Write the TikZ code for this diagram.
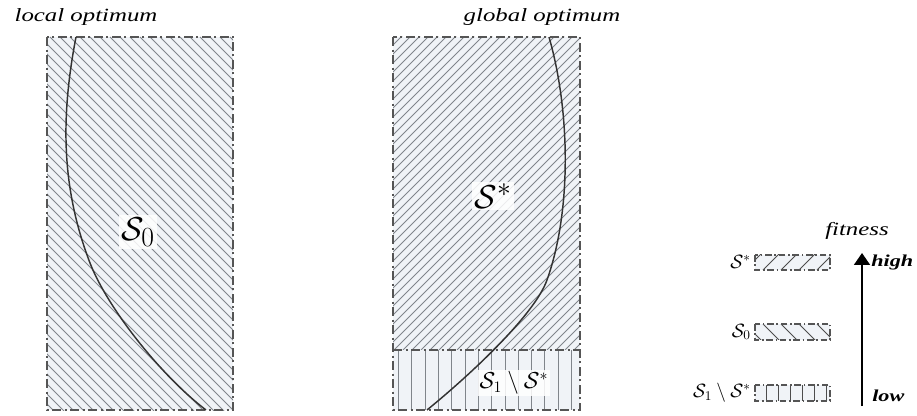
\documentclass[tikz,border=0pt]{standalone}
\usepackage{fontspec}
\setmainfont{Liberation Serif}
\usetikzlibrary{arrows.meta}
\definecolor{regfill}{HTML}{F0F3F7}
\definecolor{hatchcol}{HTML}{80858B}
\definecolor{bordcol}{HTML}{555555}
\newcommand{\hstr}[1]{\scalebox{1.33}[1]{#1}}
\begin{document}
\begin{tikzpicture}[x=0.75pt,y=-0.75pt,
  regionbox/.style={draw=bordcol,line width=1.4pt,dash pattern=on 7pt off 2.5pt on 1.5pt off 2.5pt},
  legbox/.style={draw=bordcol,line width=1pt,dash pattern=on 5pt off 2pt on 1.2pt off 2pt},
  hatchline/.style={draw=hatchcol,line width=0.55pt},
  leghatch/.style={draw=black!70,line width=0.6pt},
  optcurve/.style={draw=black!80,line width=1.1pt},
  title/.style={font=\fontsize{14}{16}\selectfont\itshape,inner sep=0pt},
  biglab/.style={font=\fontsize{24.88}{28}\selectfont,fill=white,fill opacity=0.85,text opacity=1,inner sep=1.5pt},
  midlab/.style={font=\fontsize{17.28}{20}\selectfont,fill=white,fill opacity=0.85,text opacity=1,inner sep=1pt},
  leglab/.style={font=\fontsize{14.4}{16}\selectfont,inner sep=0pt,anchor=east},
  axlab/.style={font=\fontsize{12.5}{14}\selectfont\bfseries\itshape,inner sep=0pt,anchor=west}]

\useasboundingbox (0,0) rectangle (917,416);

% ---------- left region: local optimum ----------
\coordinate (L1) at (47,37);
\coordinate (L2) at (233,410);
\fill[regfill] (L1) rectangle (L2);
\begin{scope}
  \clip (L1) rectangle (L2);
  \foreach \i in {-340,-330,...,240} \draw[hatchline] (\i,37) -- ++(380,380);
\end{scope}
\draw[regionbox] (L1) rectangle (L2);
\coordinate (la) at (76,37);
\coordinate (lb) at (90,263);
\coordinate (lc) at (206,410);
\draw[optcurve] (la) .. controls (60,120) and (62,190) .. (lb)
                     .. controls (107,307) and (160,375) .. (lc);
\node[biglab] (s0) at (138,232) {$\mathcal{S}_0$};
\node[title] (loc) at (86,17) {\hstr{local optimum}};

% ---------- middle region: global optimum ----------
\coordinate (M1) at (393,37);
\coordinate (M2) at (580,410);
\coordinate (Md1) at (393,350);
\coordinate (Md2) at (580,350);
\fill[regfill] (M1) rectangle (M2);
\begin{scope}
  \clip (M1) rectangle (Md2);
  \foreach \i in {70,79,...,590} \draw[hatchline] (\i,350) -- ++(330,-330);
\end{scope}
\begin{scope}
  \clip (Md1) rectangle (M2);
  \foreach \i in {398.5,411.8,...,580} \draw[hatchline] (\i,350) -- (\i,410);
\end{scope}
\draw[regionbox] (M1) rectangle (M2);
\draw[regionbox] (Md1) -- (Md2);
\coordinate (ma) at (549,37);
\coordinate (mb) at (547,280);
\coordinate (mc) at (427,410);
\draw[optcurve] (ma) .. controls (570,110) and (572,210) .. (mb)
                     .. controls (534.5,315) and (470,375) .. (mc);
\node[biglab] (sst) at (493,196) {$\mathcal{S}^*$};
\node[midlab] (s1) at (514,383) {$\mathcal{S}_1\setminus\mathcal{S}^*$};
\node[title] (glob) at (542,17) {\hstr{global optimum}};

% ---------- legend ----------
% S* box
\coordinate (A1) at (755,255);
\coordinate (A2) at (830,270);
\fill[regfill] (A1) rectangle (A2);
\begin{scope}
  \clip (A1) rectangle (A2);
  \foreach \i in {745,763,...,830} \draw[leghatch] (\i,270) -- ++(16,-16);
\end{scope}
\draw[legbox] (A1) rectangle (A2);
\node[leglab] (lst) at (751,262) {$\mathcal{S}^*$};

% S0 box
\coordinate (B1) at (755,324);
\coordinate (B2) at (830,340);
\fill[regfill] (B1) rectangle (B2);
\begin{scope}
  \clip (B1) rectangle (B2);
  \foreach \i in {745,763,...,830} \draw[leghatch] (\i,324) -- ++(17,17);
\end{scope}
\draw[legbox] (B1) rectangle (B2);
\node[leglab] (l0) at (751,332) {$\mathcal{S}_0$};

% S1 \ S* box
\coordinate (C1) at (755,385);
\coordinate (C2) at (830,401);
\fill[regfill] (C1) rectangle (C2);
\begin{scope}
  \clip (C1) rectangle (C2);
  \foreach \i in {766,778,...,830} \draw[leghatch] (\i,385) -- (\i,401);
\end{scope}
\draw[legbox] (C1) rectangle (C2);
\node[leglab] (l1) at (751,393) {$\mathcal{S}_1\setminus\mathcal{S}^*$};

% fitness axis
\coordinate (alow) at (862,406);
\coordinate (ahigh) at (862,253);
\draw[line width=1.3pt,-{Triangle[width=12pt,length=9pt]}] (alow) -- (ahigh);
\node[font=\fontsize{14}{16}\selectfont\itshape,inner sep=0pt] (fit) at (857,231) {\hstr{fitness}};
\node[axlab] (hi) at (871,262) {\hstr{high}};
\node[axlab] (lo) at (872,396) {\hstr{low}};
\end{tikzpicture}
\end{document}
